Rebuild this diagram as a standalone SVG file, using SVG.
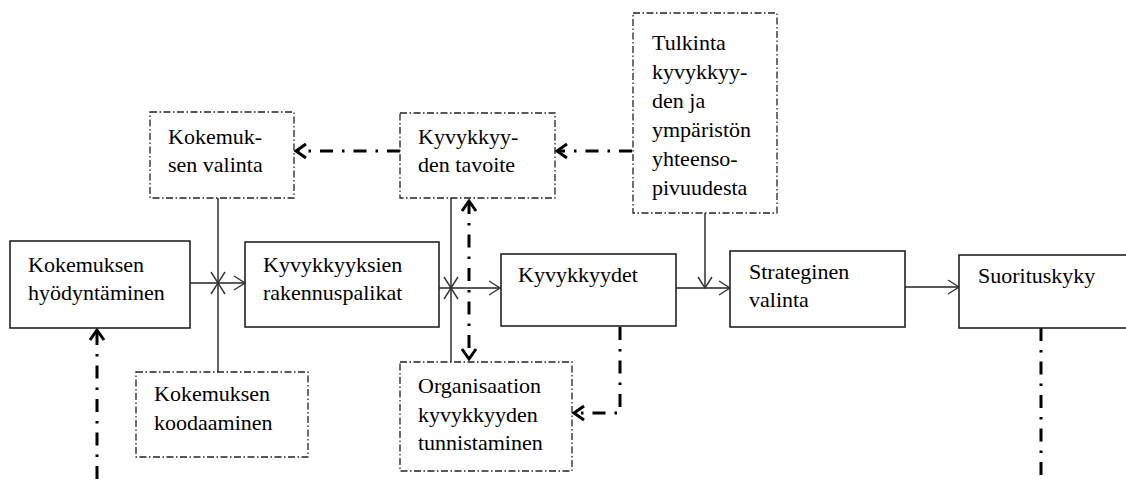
<svg xmlns="http://www.w3.org/2000/svg" width="1126" height="479" viewBox="0 0 1126 479">
<style>
.box{fill:#fff;stroke:#222;stroke-width:1.6}
.dbox{fill:#fff;stroke:#222;stroke-width:1.3;stroke-dasharray:7 2.5 1.5 2.5}
.t{font-family:'Liberation Serif','DejaVu Serif','Times New Roman',serif;font-size:22px;fill:#000}
.thin{fill:none;stroke:#222;stroke-width:1.4}
.bold{fill:none;stroke:#000;stroke-width:3;stroke-dasharray:13 9 2.5 9}
</style>
<defs>
<marker id="ah" markerUnits="userSpaceOnUse" viewBox="-13 -9 15 18" refX="0" refY="0" markerWidth="15" markerHeight="18" orient="auto-start-reverse">
<path d="M-11,-7 L0,0 L-11,7" fill="none" stroke="#333" stroke-width="1.4"/>
</marker>
<marker id="bh" markerUnits="userSpaceOnUse" viewBox="-12 -9 15 18" refX="0" refY="0" markerWidth="15" markerHeight="18" orient="auto-start-reverse">
<path d="M-10,-7 L0,0 L-10,7" fill="none" stroke="#000" stroke-width="3"/>
</marker>
</defs>
<rect width="1126" height="479" fill="#fff"/>
<g id="connectors">
<path class="thin" d="M190,283 H245" marker-end="url(#ah)"/>
<path class="thin" d="M218,198 V283" marker-end="url(#ah)"/>
<path class="thin" d="M218,372 V283" marker-end="url(#ah)"/>
<path class="thin" d="M439,288 H500" marker-end="url(#ah)"/>
<path class="thin" d="M451,198 V288" marker-end="url(#ah)"/>
<path class="thin" d="M451,362 V288" marker-end="url(#ah)"/>
<path class="thin" d="M676,288 H730" marker-end="url(#ah)"/>
<path class="thin" d="M705,213 V288" marker-end="url(#ah)"/>
<path class="thin" d="M905,287 H959" marker-end="url(#ah)"/>
<path class="bold" d="M632,151 H557" marker-end="url(#bh)"/>
<path class="bold" d="M400,151 H296" marker-end="url(#bh)"/>
<path class="bold" d="M469,201 V359" marker-start="url(#bh)" marker-end="url(#bh)"/>
<path class="bold" d="M620,327 V413 H574" marker-end="url(#bh)"/>
<path class="bold" d="M97,479 V330" marker-end="url(#bh)"/>
<path class="bold" d="M1041,328 V479"/>
</g>
<g id="n-hyodyntaminen">
<rect class="box" x="10" y="241" width="180" height="87"/>
<text class="t" x="28" y="272">Kokemuksen</text>
<text class="t" x="28" y="300">hyödyntäminen</text>
</g>
<g id="n-valinta">
<rect class="dbox" x="150" y="112" width="144" height="86"/>
<text class="t" x="168" y="144">Kokemuk-</text>
<text class="t" x="168" y="172">sen valinta</text>
</g>
<g id="n-koodaaminen">
<rect class="dbox" x="136" y="372" width="172" height="85"/>
<text class="t" x="154" y="401">Kokemuksen</text>
<text class="t" x="154" y="430">koodaaminen</text>
</g>
<g id="n-rakennuspalikat">
<rect class="box" x="245" y="242" width="194" height="85"/>
<text class="t" x="263" y="272">Kyvykkyyksien</text>
<text class="t" x="263" y="300">rakennuspalikat</text>
</g>
<g id="n-tavoite">
<rect class="dbox" x="400" y="113" width="155" height="85"/>
<text class="t" x="418" y="144">Kyvykkyy-</text>
<text class="t" x="418" y="172">den tavoite</text>
</g>
<g id="n-organisaatio">
<rect class="dbox" x="400" y="362" width="172" height="109"/>
<text class="t" x="418" y="393">Organisaation</text>
<text class="t" x="418" y="422">kyvykkyyden</text>
<text class="t" x="418" y="450">tunnistaminen</text>
</g>
<g id="n-kyvykkyydet">
<rect class="box" x="501" y="254" width="175" height="72"/>
<text class="t" x="518" y="282">Kyvykkyydet</text>
</g>
<g id="n-tulkinta">
<rect class="dbox" x="633" y="13" width="144" height="200"/>
<text class="t" x="652" y="50">Tulkinta</text>
<text class="t" x="652" y="79">kyvykkyy-</text>
<text class="t" x="652" y="108">den ja</text>
<text class="t" x="652" y="137">ympäristön</text>
<text class="t" x="652" y="166">yhteenso-</text>
<text class="t" x="652" y="195">pivuudesta</text>
</g>
<g id="n-strateginen">
<rect class="box" x="730" y="251" width="175" height="76"/>
<text class="t" x="749" y="279">Strateginen</text>
<text class="t" x="749" y="307">valinta</text>
</g>
<g id="n-suorituskyky">
<rect class="box" x="959" y="255" width="180" height="73"/>
<text class="t" x="978" y="283">Suorituskyky</text>
</g>
</svg>
